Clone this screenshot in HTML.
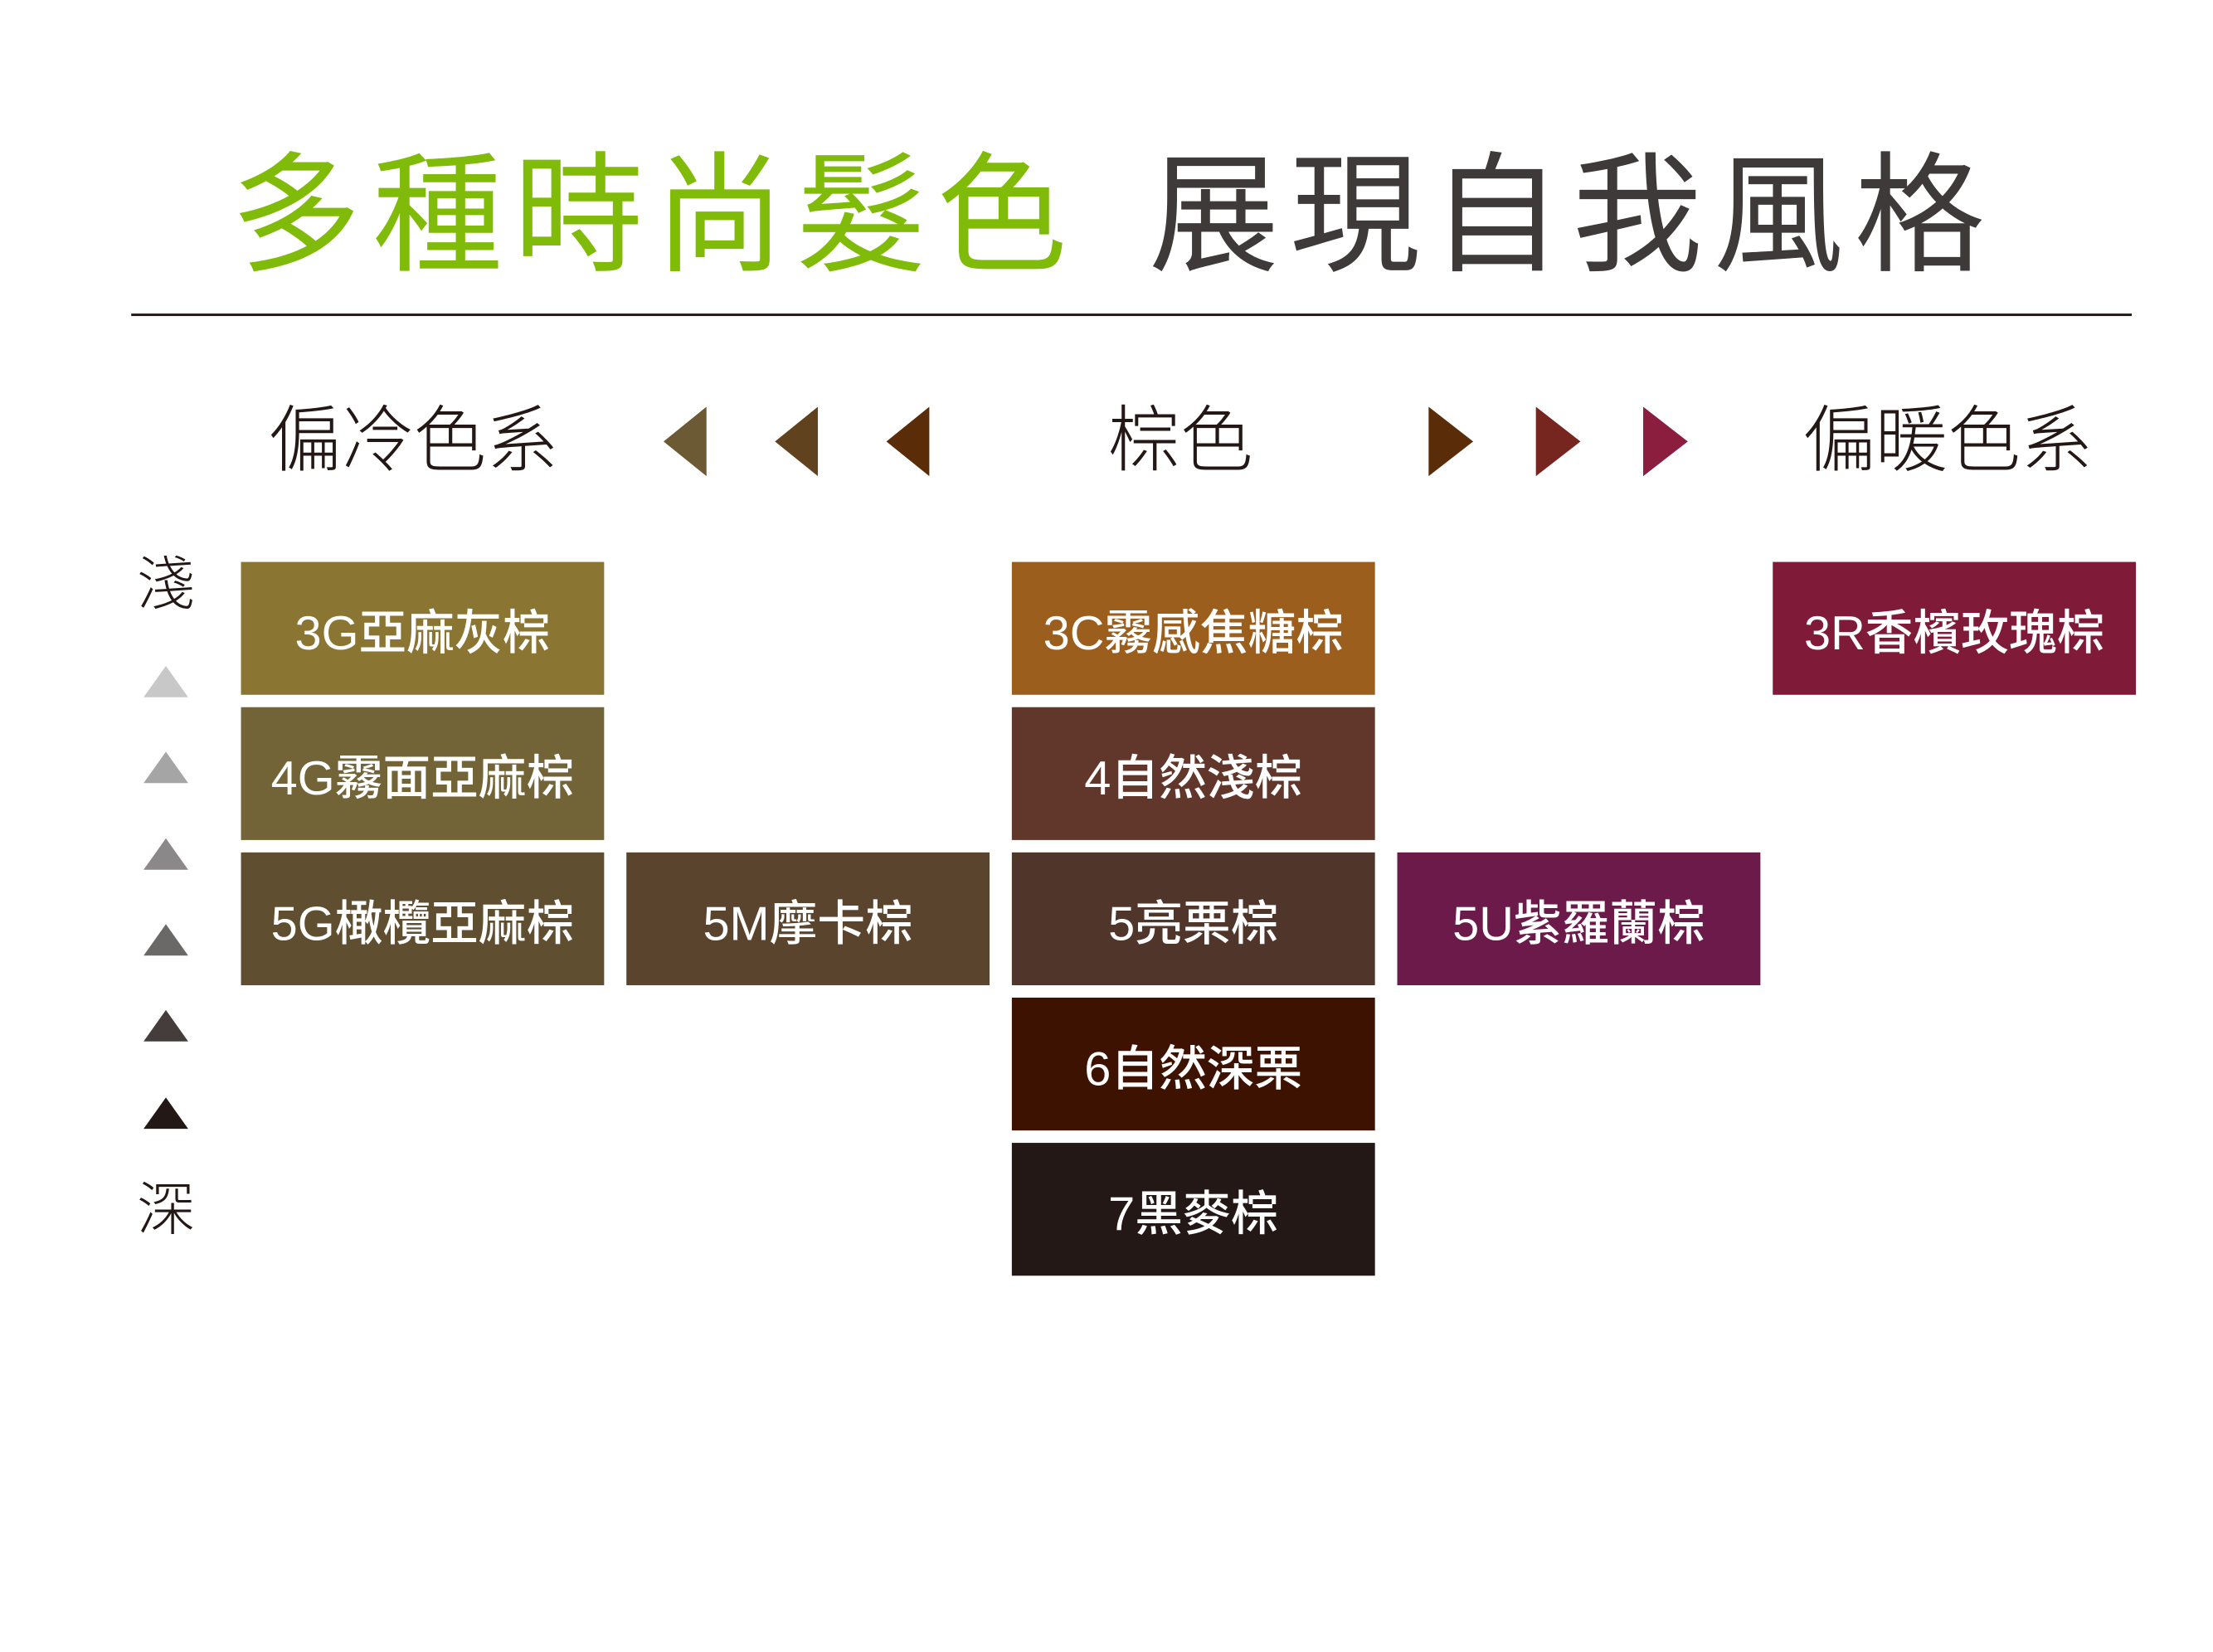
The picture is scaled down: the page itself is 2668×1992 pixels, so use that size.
<!DOCTYPE html>
<html><head><meta charset="utf-8"><style>
body{margin:0;width:2668px;height:1992px;background:#fff;position:relative;overflow:hidden;font-family:"Liberation Sans","Noto Sans CJK TC",sans-serif}
#w{position:absolute;left:0;top:0;width:2668px;height:1992px;transform:scale(0.995);transform-origin:0 0}
.a{position:absolute;white-space:nowrap;line-height:1}
.t{font-size:158px;letter-spacing:13px;font-weight:400;top:183px}
.s{font-size:88px;color:#231815;top:490px;font-weight:300}
.b{position:absolute;width:440px;height:161px;color:#fff;font-size:58px;font-weight:500;display:flex;align-items:center;justify-content:center;letter-spacing:0px}
.tri{position:absolute;width:0;height:0}
.l{border-top:42px solid transparent;border-bottom:42px solid transparent;border-right:52px solid}
.r{border-top:42px solid transparent;border-bottom:42px solid transparent;border-left:54px solid}
.u{left:174px;border-left:27px solid transparent;border-right:27px solid transparent;border-bottom:38px solid}
</style></head><body><div id="w">
<div class="a t" style="left:280px;color:#7fbb08">多種時尚髮色</div>
<div class="a t" style="left:1392px;color:#3e3a39">展現自我風格</div>
<div class="a" style="left:159px;top:380px;width:2424px;height:3px;background:#231815"></div>

<div class="a s" style="left:325px">偏冷色系</div>
<div class="a s" style="left:1342px">棕色</div>
<div class="a s" style="left:2184px">偏暖色系</div>

<div class="tri l" style="left:804px;top:493px;border-right-color:#6b5a33"></div>
<div class="tri l" style="left:939px;top:493px;border-right-color:#60421e"></div>
<div class="tri l" style="left:1074px;top:493px;border-right-color:#5a2d08"></div>
<div class="tri r" style="left:1731px;top:493px;border-left-color:#5a2d08"></div>
<div class="tri r" style="left:1861px;top:493px;border-left-color:#77251f"></div>
<div class="tri r" style="left:1991px;top:493px;border-left-color:#8b1d3f"></div>

<div class="a" style="left:166px;top:673px;font-size:70px;color:#231815;font-weight:300">淺</div>
<div class="a" style="left:166px;top:1431px;font-size:70px;color:#231815;font-weight:300">深</div>
<div class="tri u" style="top:807px;border-bottom-color:#c8c8c8"></div>
<div class="tri u" style="top:911px;border-bottom-color:#a6a5a5"></div>
<div class="tri u" style="top:1016px;border-bottom-color:#8a8888"></div>
<div class="tri u" style="top:1120px;border-bottom-color:#6b6868"></div>
<div class="tri u" style="top:1224px;border-bottom-color:#443d3c"></div>
<div class="tri u" style="top:1330px;border-bottom-color:#231815"></div>

<div class="b" style="left:292px;top:681px;background:#8a7532">3G亞麻灰棕</div>
<div class="b" style="left:292px;top:857px;background:#736437">4G霧面亞麻棕</div>
<div class="b" style="left:292px;top:1033px;background:#5f4f30">5G橄欖亞麻棕</div>
<div class="b" style="left:759px;top:1033px;background:#5b442d">5M摩卡棕</div>
<div class="b" style="left:1226px;top:681px;background:#9b5e1c">3C霧感焦糖棕</div>
<div class="b" style="left:1226px;top:857px;background:#62372b">4自然淺棕</div>
<div class="b" style="left:1226px;top:1033px;background:#50352b">5亮栗棕</div>
<div class="b" style="left:1226px;top:1209px;background:#3e1200">6自然深栗</div>
<div class="b" style="left:1226px;top:1385px;background:#231816">7黑麥棕</div>
<div class="b" style="left:1693px;top:1033px;background:#6b1a4a">5U紫羅蘭棕</div>
<div class="b" style="left:2148px;top:681px;background:#7f1a39">3R香檳玫瑰棕</div>
</div></body></html>
